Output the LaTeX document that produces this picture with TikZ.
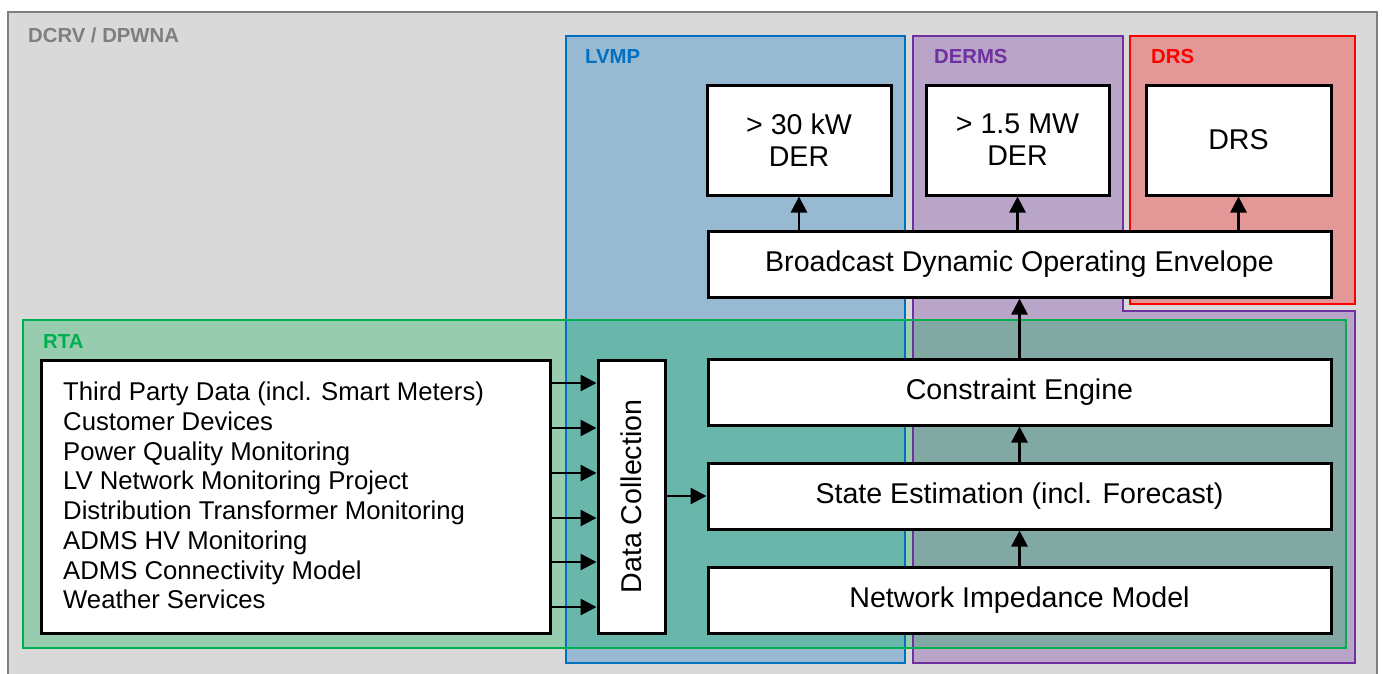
\documentclass[tikz,border=0pt]{standalone}
\usepackage{fontspec}
\setmainfont{Liberation Sans}
\usetikzlibrary{arrows.meta}
\definecolor{outerfill}{HTML}{D9D9D9}
\definecolor{outerline}{HTML}{808080}
\definecolor{lvmpc}{HTML}{0070C0}
\definecolor{dermsc}{HTML}{7030A0}
\definecolor{drsc}{HTML}{FF0000}
\definecolor{rtac}{HTML}{00B050}
\definecolor{labelgray}{HTML}{7F7F7F}
\tikzset{
  region/.style={line width=1.5pt},
  wbox/.style={draw=black, fill=white, line width=3pt, inner sep=0pt,
    font=\fontsize{28.6}{32}\selectfont, align=center},
  rlabel/.style={anchor=west, font=\fontsize{20.3}{22}\selectfont\bfseries, inner sep=0pt},
  arr/.style={-{Triangle[length=16pt,width=16pt]}, line width=2.8pt},
}
\begin{document}
\begin{tikzpicture}[x=1pt,y=-1pt]
\useasboundingbox (0,0) rectangle (1383,673);
\begin{scope}
\clip (0,0) rectangle (1383,673);
% outer
\draw[fill=outerfill, draw=outerline, line width=1.5pt] (8,12) rectangle (1377,690);
% LVMP
\fill[lvmpc, opacity=0.3] (566,36) rectangle (905,663);
% DERMS (L shape)
\fill[dermsc, opacity=0.3] (913,36) -- (1123,36) -- (1123,311) -- (1355,311) -- (1355,663) -- (913,663) -- cycle;
% DRS
\fill[drsc, opacity=0.3] (1130,36) rectangle (1355,304);
% RTA
\fill[rtac, opacity=0.3] (23,320) rectangle (1346,648);
\draw[region, draw=lvmpc] (566,36) rectangle (905,663);
\draw[region, draw=dermsc] (913,36) -- (1123,36) -- (1123,311) -- (1355,311) -- (1355,663) -- (913,663) -- cycle;
\draw[region, draw=drsc] (1130,36) rectangle (1355,304);
\draw[region, draw=rtac] (23,320) rectangle (1346,648);
\end{scope}
% labels
\node[rlabel, text=labelgray] (lblouter) at (28,35) {DCRV / DPWNA};
\node[rlabel, text=lvmpc] (lbllvmp) at (585,57) {LVMP};
\node[rlabel, text=dermsc] (lblderms) at (934,57) {DERMS};
\node[rlabel, text=drsc] (lbldrs) at (1151,57) {DRS};
\node[rlabel, text=rtac] (lblrta) at (43,342) {RTA};
% boxes
\node[wbox, minimum width=184pt, minimum height=110pt] (der30) at (799,140) {{>} 30 kW\\DER};
\node[wbox, minimum width=183pt, minimum height=110pt] (der15) at (1017.5,140) {{>} 1.5 MW\\DER};
\node[wbox, minimum width=185pt, minimum height=110pt] (drs) at (1238.5,140) {DRS};
\node[wbox, minimum width=623pt, minimum height=66pt] (bdoe) at (1019.5,264) {Broadcast Dynamic Operating Envelope};
\node[wbox, minimum width=623pt, minimum height=66pt] (ce) at (1019.5,392) {Constraint Engine};
\node[wbox, minimum width=623pt, minimum height=66pt] (se) at (1019.5,496) {State Estimation (incl. Forecast)};
\node[wbox, minimum width=623pt, minimum height=66pt] (nim) at (1019.5,600) {Network Impedance Model};
\node[wbox, minimum width=67pt, minimum height=273pt] (dc) at (631.5,496.5) {};
\node[font=\fontsize{28.6}{32}\selectfont, rotate=90, inner sep=0pt] (dctext) at (dc.center) {Data Collection};
\node[wbox, minimum width=509pt, minimum height=273pt] (src) at (295.5,496.5) {};
\node[anchor=north west, align=left, inner sep=0pt, font=\fontsize{25.7}{29.7}\selectfont] (srctext) at (63,382)
 {Third Party Data (incl. Smart Meters)\\Customer Devices\\Power Quality Monitoring\\LV Network Monitoring Project\\Distribution Transformer Monitoring\\ADMS HV Monitoring\\ADMS Connectivity Model\\Weather Services};
% arrows
\foreach \yy in {383,428,473,518,562,607}{
  \coordinate (a\yy) at (src.east |- 0,\yy);
  \coordinate (b\yy) at (dc.west |- 0,\yy);
  \draw[arr] (a\yy) -- (b\yy);
}
\draw[arr] (dc.east |- se.west) -- (se.west);
\draw[arr] (nim.north) -- (se.south);
\draw[arr] (se.north) -- (ce.south);
\draw[arr] (ce.north) -- (bdoe.south);
\draw[arr] (bdoe.north -| der30.south) -- (der30.south);
\draw[arr] (bdoe.north -| der15.south) -- (der15.south);
\draw[arr] (bdoe.north -| drs.south) -- (drs.south);
\end{tikzpicture}
\end{document}
